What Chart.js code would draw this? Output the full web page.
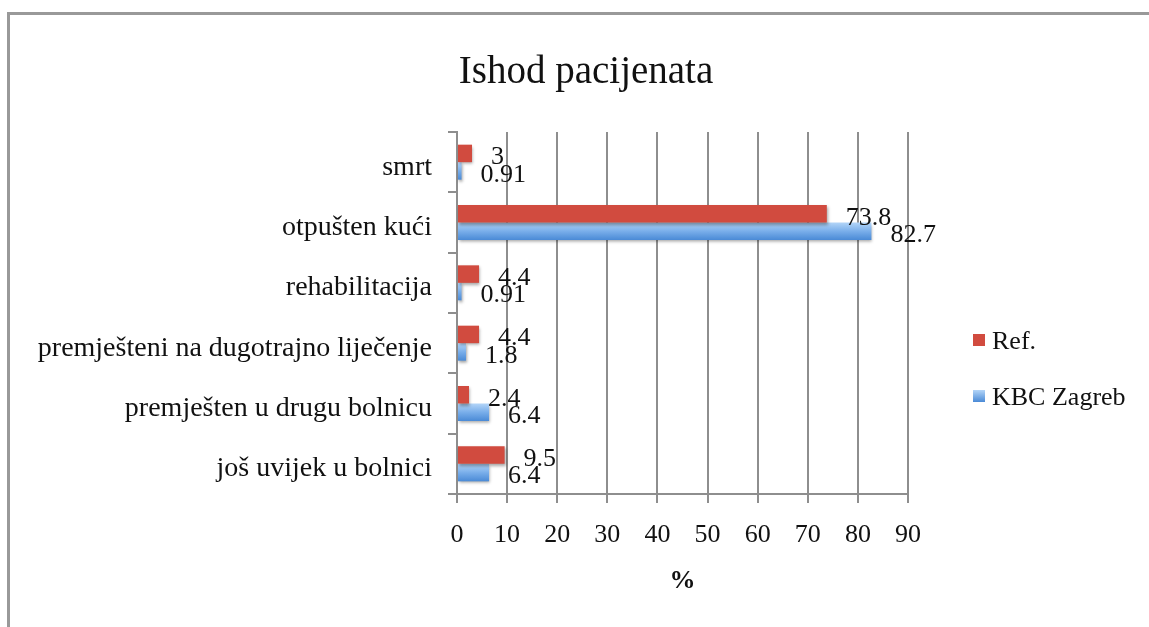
<!DOCTYPE html>
<html>
<head>
<meta charset="utf-8">
<script src="https://cdn.jsdelivr.net/npm/chart.js@4"></script>
<style>
    html, body { margin: 0; padding: 0; background: #fff; overflow: hidden; }
    #frame {
        position: absolute; left: 7px; top: 12px;
        width: 2000px; height: 2000px;
        border: 3px solid #999;
    }
    #wrap { position: absolute; left: 0; top: 0; width: 1149px; height: 627px; }
</style>
</head>
<body>
<div id="frame"></div>
<div id="wrap"><canvas id="outcomeChart" width="1149" height="627"></canvas></div>
<script>
// chart data (top to bottom, as shown)
const categories = [
    'smrt',
    'otpušten kući',
    'rehabilitacija',
    'premješteni na dugotrajno liječenje',
    'premješten u drugu bolnicu',
    'još uvijek u bolnici'
];
const refValues    = [3, 73.8, 4.4, 4.4, 2.4, 9.5];
const zagrebValues = [0.91, 82.7, 0.91, 1.8, 6.4, 6.4];
const seriesNames  = ['Ref.', 'KBC Zagreb'];
const xTicks       = [0, 10, 20, 30, 40, 50, 60, 70, 80, 90];

const FONT     = '"Liberation Serif", "Times New Roman", serif';
const RED      = '#d14b3f';
const GRID     = '#8e8e8e';
const CAT_PCT  = 0.58;

// vertical gradient for the blue bars, worked out from the scale
function blueFill(chart, index) {
    const yScale = chart.scales.y;
    if (!chart.chartArea || !yScale) return '#6ea5e4';
    const center = yScale.getPixelForValue(index);
    const band   = yScale.getPixelForValue(1) - yScale.getPixelForValue(0);
    const half   = band * CAT_PCT / 2;
    const g = chart.ctx.createLinearGradient(0, center, 0, center + half);
    g.addColorStop(0, '#b3d5f8');
    g.addColorStop(0.5, '#79aeea');
    g.addColorStop(1, '#4a8ad6');
    return g;
}

const barShadow = {
    id: 'barShadow',
    beforeDatasetsDraw(chart) {
        const c = chart.ctx;
        c.save();
        c.shadowColor = 'rgba(0,0,0,0.35)';
        c.shadowBlur = 3;
        c.shadowOffsetX = 1;
        c.shadowOffsetY = 2;
    },
    afterDatasetsDraw(chart) {
        chart.ctx.restore();
    }
};

// value labels, title, axis title and legend
const extras = {
    id: 'extras',
    afterDraw(chart) {
        const c = chart.ctx;
        c.save();
        c.fillStyle = '#111';

        // value labels next to bar ends
        c.font = '26px ' + FONT;
        c.textAlign = 'left';
        c.textBaseline = 'middle';
        chart.data.datasets.forEach((ds, di) => {
            chart.getDatasetMeta(di).data.forEach((bar, i) => {
                c.fillText(String(ds.data[i]), bar.x + 19, bar.y + 4);
            });
        });

        // title
        c.font = '39px ' + FONT;
        c.textAlign = 'center';
        c.fillText('Ishod pacijenata', 586, 73);

        // x axis title
        c.font = 'bold 26px ' + FONT;
        const area = chart.chartArea;
        c.fillText('%', (area.left + area.right) / 2, 581);

        // legend
        c.font = '26px ' + FONT;
        c.textAlign = 'left';
        const rows = [340, 396];
        chart.data.datasets.forEach((ds, di) => {
            const cy = rows[di];
            if (di === 0) {
                c.fillStyle = RED;
            } else {
                const g = c.createLinearGradient(0, cy - 6, 0, cy + 6);
                g.addColorStop(0, '#b3d5f8');
                g.addColorStop(1, '#4a8ad6');
                c.fillStyle = g;
            }
            c.fillRect(973, cy - 6, 12, 12);
            c.fillStyle = '#111';
            c.fillText(ds.label, 992, cy + 2);
        });
        c.restore();
    }
};

new Chart(document.getElementById('outcomeChart'), {
    type: 'bar',
    data: {
        labels: categories,
        datasets: [
            {
                label: seriesNames[0],
                data: refValues,
                backgroundColor: RED
            },
            {
                label: seriesNames[1],
                data: zagrebValues,
                backgroundColor: ctx => blueFill(ctx.chart, ctx.dataIndex)
            }
        ]
    },
    options: {
        indexAxis: 'y',
        responsive: false,
        animation: false,
        categoryPercentage: CAT_PCT,
        barPercentage: 1.0,
        layout: { padding: { top: 132, right: 241, left: 0, bottom: 0 } },
        plugins: {
            legend: { display: false },
            title: { display: false },
            tooltip: { enabled: false }
        },
        scales: {
            x: {
                min: 0,
                max: 90,
                afterFit: scale => { scale.height = 133; },
                afterBuildTicks: scale => { scale.ticks = xTicks.map(v => ({ value: v })); },
                grid: {
                    color: GRID,
                    lineWidth: 2,
                    drawTicks: true,
                    tickLength: 9
                },
                border: { color: GRID, width: 2 },
                ticks: {
                    color: '#111',
                    padding: 17,
                    font: { family: FONT, size: 26 }
                }
            },
            y: {
                afterFit: scale => { scale.width = 457; },
                grid: {
                    offset: true,
                    drawOnChartArea: false,
                    drawTicks: true,
                    tickLength: 9,
                    color: GRID,
                    lineWidth: 2
                },
                border: { color: GRID, width: 2 },
                ticks: {
                    color: '#111',
                    padding: 16,
                    labelOffset: 5,
                    font: { family: FONT, size: 28 }
                }
            }
        }
    },
    plugins: [barShadow, extras]
});
</script>
</body>
</html>
